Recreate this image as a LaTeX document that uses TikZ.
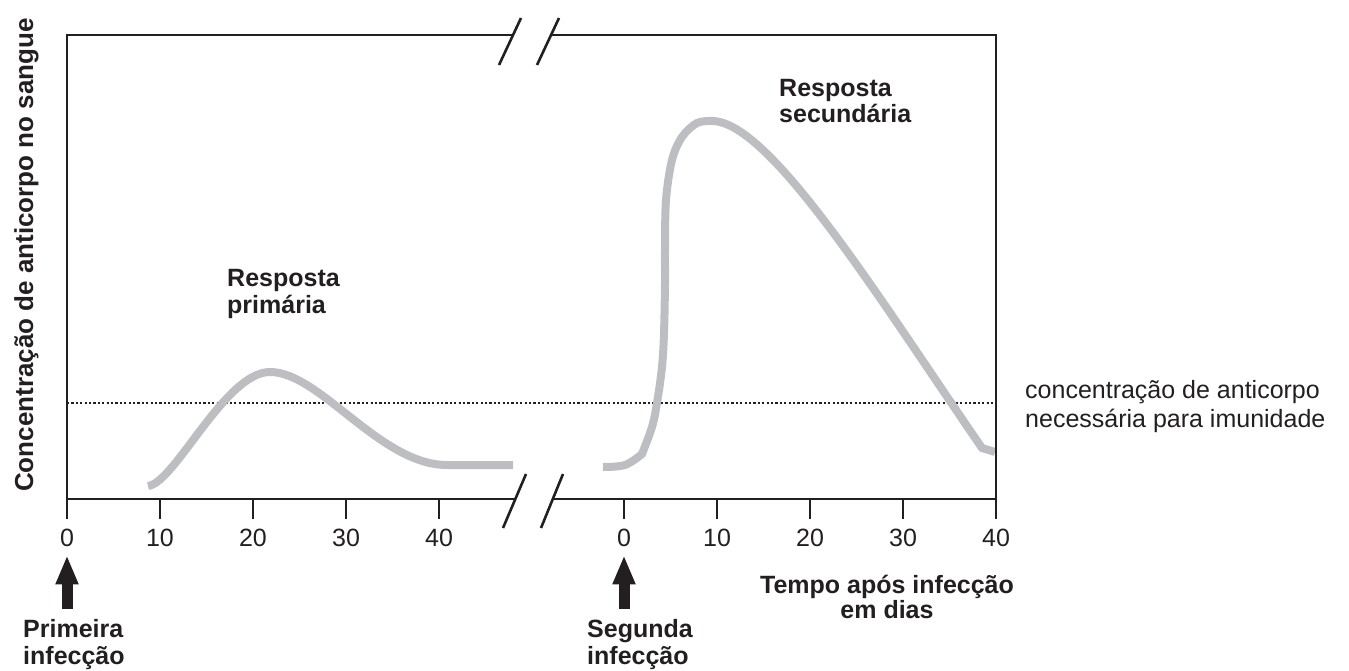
\documentclass[tikz,border=0pt]{standalone}
\usepackage{fontspec}
\setmainfont{Liberation Sans}
\usepackage{tikz}
\usetikzlibrary{arrows.meta}
\definecolor{ink}{RGB}{35,31,32}
\definecolor{curvegray}{RGB}{189,190,193}

\begin{document}
\begin{tikzpicture}[x=1pt,y=-1pt,line join=miter,
    every node/.style={text=ink,font=\fontsize{25}{26.5}\selectfont},
    axis/.style={draw=ink,line width=2.6pt},
    resp/.style={draw=curvegray,line width=8pt},
    title/.style={anchor=base west,align=left,inner sep=0,font=\fontsize{25}{26.5}\selectfont\bfseries},
    ticklab/.style={below=9pt,inner sep=0},
    infarrow/.style={draw=ink,line width=11pt,-{Triangle[length=29pt,width=21pt]}}]
    \useasboundingbox (0,0) rectangle (1349,671);

    % limiar de imunidade
    \draw[ink,line width=2.5pt,dash pattern=on 2.2pt off 2.2pt] (67,403) -- (996,403);

    % curvas de resposta
    \draw[resp] (148,486) .. controls (175,483) and (225,372) .. (270,372)
        .. controls (320,372) and (380,465) .. (447,465) -- (513,465);
    \draw[resp] plot[smooth,tension=0.6] coordinates {(603,467) (625,465) (642,454)}
        -- plot[smooth,tension=0.55] coordinates {(642,454) (652,427) (657,403) (662,367) (664,333)
        (665,283) (665,250) (666,200) (672,160) (682,137) (697,123) (712,121)}
        .. controls (770,121) and (880,300) .. (982,448) -- (995,452);

    % eixos com quebra
    \draw[axis] (515,499) -- (67,499) -- (67,35) -- (513,35);
    \draw[axis] (553,499) -- (996,499) -- (996,35) -- (551,35);
    \draw[axis] (499,65) -- (521,18);
    \draw[axis] (537,65) -- (559,18);
    \draw[axis] (503,528) -- (526,474);
    \draw[axis] (541,528) -- (563,474);

    \foreach \d [count=\i from 0] in {0,10,20,30,40} {
        \draw[axis] (67+93*\i,499) -- (67+93*\i,519) node[ticklab] (L\d) {\d};
        \draw[axis] (624+93*\i,499) -- (624+93*\i,519) node[ticklab] (R\d) {\d};
    }

    \node[rotate=90,anchor=base,inner sep=0,font=\fontsize{26}{26.5}\selectfont\bfseries] (ylab)
        at (33,255) {Concentração de anticorpo no sangue};

    % nos de duas linhas: base = linha de baixo
    \node[title] (prim) at (227,313) {Resposta\\primária};
    \node[title] (sec) at (779,123) {Resposta\\secundária};
    \node[anchor=base west,align=left,inner sep=0,font=\fontsize{25}{29}\selectfont] (lim)
        at (1025,427) {concentração de anticorpo\\necessária para imunidade};
    \node[anchor=base,align=center,inner sep=0,font=\fontsize{25}{25}\selectfont\bfseries] (tempo)
        at (887,618) {Tempo após infecção\\em dias};

    \node[title] (pinf) at (23,664) {Primeira\\infecção};
    \node[title] (sinf) at (587,664) {Segunda\\infecção};
    \draw[infarrow,shorten <=10pt,shorten >=7pt] (pinf.north -| L0) -- (L0.south);
    \draw[infarrow,shorten <=10pt,shorten >=7pt] (sinf.north -| R0) -- (R0.south);
\end{tikzpicture}
\end{document}
